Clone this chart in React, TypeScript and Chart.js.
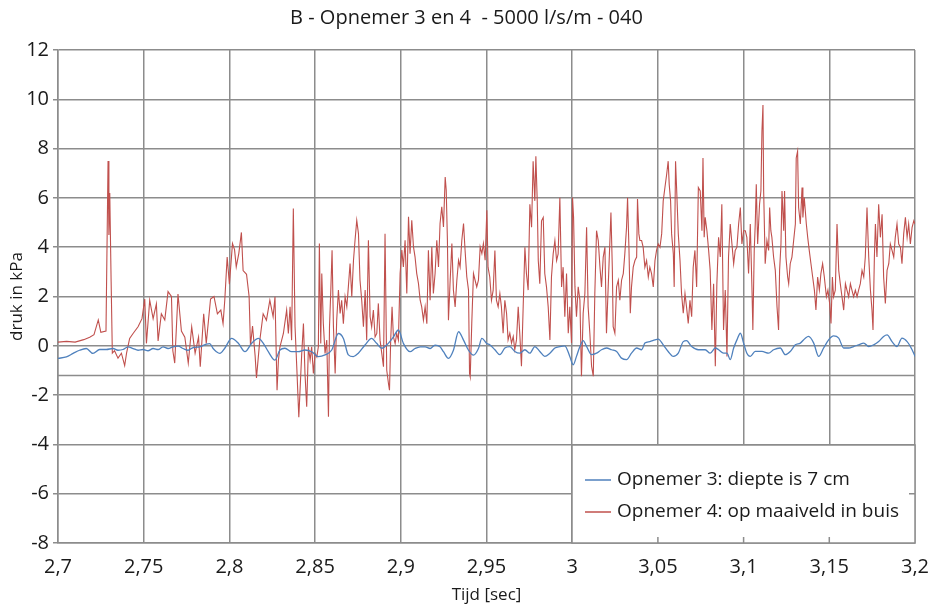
import { useEffect, useRef } from "react";
import { Chart, registerables } from "chart.js";
Chart.register(...registerables);

const chartTitle = "B - Opnemer 3 en 4  - 5000 l/s/m - 040";
const xTitle = "Tijd [sec]";
const yTitle = "druk in kPa";
const blueLabel = "Opnemer 3: diepte is 7 cm";
const redLabel = "Opnemer 4: op maaiveld in buis";
const xMin = 2.7, xMax = 3.2, xStep = 0.05;
const yMin = -8, yMax = 12, yStep = 2;
const refLevel = -1.2;

// Opnemer 3 [tijd, druk]
const blueSignal: [number, number][] = [
[2.7,-0.51],[2.7049,-0.45],[2.7088,-0.31],[2.7126,-0.18],[2.7165,-0.11],[2.7204,-0.31],[2.7243,-0.15],[2.7282,-0.15],[2.7321,-0.11],[2.735,-0.18],
[2.7379,-0.15],[2.7409,-0.04],[2.7438,-0.11],[2.7467,-0.18],[2.7496,-0.15],[2.7525,-0.2],[2.7555,-0.11],[2.7584,-0.15],[2.7613,-0.04],[2.7642,-0.11],
[2.7671,-0.04],[2.7701,-0.01],[2.773,-0.11],[2.7759,-0.18],[2.7788,-0.07],[2.7827,-0.04],[2.7866,0.07],[2.7885,0.09],[2.7905,-0.11],[2.7924,-0.24],
[2.7944,-0.31],[2.7973,-0.1],[2.8013,0.3],[2.8052,0.1],[2.8091,-0.24],[2.813,0.1],[2.8169,0.3],[2.8198,0.1],[2.8227,-0.24],[2.8266,-0.58],
[2.8295,-0.17],[2.8324,-0.1],[2.8363,-0.24],[2.8402,-0.24],[2.8441,-0.17],[2.848,-0.24],[2.8519,-0.44],[2.8558,-0.37],[2.8597,-0.17],[2.8636,0.5],
[2.8665,0.3],[2.8694,-0.37],[2.8723,-0.44],[2.8752,-0.3],[2.8791,0.03],[2.883,0.3],[2.8859,0.1],[2.8889,-0.1],[2.8927,0.1],[2.8956,0.35],
[2.8986,0.64],[2.9015,0.1],[2.9054,-0.24],[2.9083,-0.11],[2.9113,-0.04],[2.9142,-0.04],[2.9171,-0.11],[2.92,0.03],[2.9229,-0.04],[2.9249,-0.24],
[2.9278,-0.51],[2.9307,-0.18],[2.9337,0.57],[2.9366,0.23],[2.9395,-0.18],[2.9424,-0.38],[2.9453,-0.11],[2.9473,0.3],[2.9502,0.09],[2.9519,0.04],
[2.9549,-0.16],[2.9578,-0.36],[2.9607,-0.09],[2.9636,-0.03],[2.9665,-0.23],[2.9694,-0.3],[2.9724,-0.16],[2.9753,-0.3],[2.9782,-0.03],[2.9811,-0.23],
[2.984,-0.43],[2.987,-0.3],[2.9899,-0.09],[2.9928,-0.03],[2.9957,0],[2.9986,-0.43],[3.0006,-0.77],[3.0025,-0.43],[3.0045,-0.03],[3.0064,0.21],
[3.0084,-0.03],[3.0113,-0.36],[3.0142,-0.3],[3.0171,-0.16],[3.02,-0.09],[3.023,-0.16],[3.0259,-0.23],[3.0288,-0.5],[3.0317,-0.56],[3.0346,-0.3],
[3.0376,-0.09],[3.0405,-0.16],[3.0424,0.11],[3.0453,0.17],[3.0483,0.24],[3.0502,0.27],[3.0531,0.04],[3.056,-0.23],[3.059,-0.43],[3.0619,-0.3],
[3.0648,0.17],[3.0667,0.21],[3.0697,-0.03],[3.0736,-0.16],[3.0776,-0.16],[3.0805,-0.3],[3.0835,-0.09],[3.0854,-0.16],[3.0883,-0.3],[3.0903,-0.3],
[3.0922,-0.56],[3.0942,-0.09],[3.0961,0.24],[3.0981,0.51],[3.1,0.11],[3.1019,-0.3],[3.1039,-0.43],[3.1068,-0.23],[3.1107,-0.23],[3.1146,-0.3],
[3.1175,-0.16],[3.1214,-0.09],[3.1243,-0.36],[3.1272,-0.23],[3.1302,0.04],[3.1331,0.11],[3.136,0.31],[3.1379,0.38],[3.1409,0.11],[3.1438,-0.43],
[3.1467,-0.09],[3.1496,0.24],[3.1525,0.4],[3.1555,0.31],[3.1584,-0.09],[3.1613,-0.09],[3.1642,-0.03],[3.1671,0.04],[3.1701,0.11],[3.173,-0.03],
[3.1759,0.04],[3.1788,0.17],[3.1817,0.38],[3.1837,0.44],[3.1866,0.17],[3.1895,-0.03],[3.1924,0.31],[3.1954,0.17],[3.1983,-0.16],[3.2,-0.43],
];

// Opnemer 4 [tijd, druk], 2.70 - 2.825
const redPart1: [number, number][] = [
[2.7,0.15],[2.705,0.18],[2.71,0.15],[2.715,0.25],[2.7185,0.35],[2.721,0.45],[2.7235,1.05],[2.725,0.55],[2.728,0.6],[2.7292,7.5],
[2.7297,4.5],[2.7302,6.2],[2.731,2.6],[2.7317,-0.3],[2.733,-0.2],[2.735,-0.5],[2.737,-0.3],[2.7389,-0.8],[2.74,-0.3],[2.7418,0.3],
[2.7438,0.5],[2.7467,0.77],[2.749,1.1],[2.7506,1.9],[2.7516,0.1],[2.7535,1.85],[2.7555,1.1],[2.7574,1.7],[2.7584,0.2],[2.7603,1.3],
[2.7623,1.05],[2.7642,2.2],[2.7662,2.0],[2.767,-0.2],[2.7681,-0.7],[2.77,2.1],[2.772,0.6],[2.774,0.35],[2.776,-0.7],[2.778,0.77],
[2.78,-0.3],[2.782,0.35],[2.783,-0.85],[2.785,1.3],[2.7865,0.1],[2.789,1.9],[2.791,2.0],[2.793,1.3],[2.795,1.45],[2.7963,0.9],
[2.7973,1.85],[2.7987,3.6],[2.8,2.5],[2.8018,4.15],[2.803,3.9],[2.804,3.2],[2.8055,3.75],[2.807,4.6],[2.808,3.05],[2.81,2.9],
[2.8115,2.0],[2.8123,0.0],[2.8135,0.8],[2.815,-0.4],[2.8158,-1.3],[2.8177,0.2],[2.8197,1.3],[2.8216,1.04],[2.8236,1.85],[2.8255,1.18],
];

// 2.825 - 2.95
const redPart2: [number, number][] = [
[2.8266,1.99],[2.8278,-1.8],[2.8286,-0.58],[2.8295,-0.04],[2.8315,0.5],[2.8334,1.45],[2.8344,0.5],[2.8354,1.58],[2.8363,0.23],[2.8373,5.57],
[2.8383,0.77],[2.8393,-0.85],[2.8405,-2.9],[2.8422,-0.31],[2.8432,0.9],[2.8441,-1.12],[2.8451,-2.47],[2.8461,-0.04],[2.8471,-0.58],[2.848,-0.04],
[2.849,-1.12],[2.85,-0.31],[2.851,-0.45],[2.8519,-0.04],[2.8525,4.15],[2.8533,0.09],[2.8539,2.93],[2.8548,0.9],[2.8558,-0.31],[2.8568,0.23],
[2.8578,-2.88],[2.8584,0.77],[2.8591,2.12],[2.8599,3.88],[2.8607,0.77],[2.8617,-1.12],[2.8626,1.04],[2.8636,2.26],[2.8646,1.31],[2.8655,1.85],
[2.8665,0.9],[2.8675,1.99],[2.8685,1.58],[2.8694,2.39],[2.8704,3.34],[2.8714,1.99],[2.8724,3.47],[2.8733,4.28],[2.8743,5.09],[2.8753,4.55],
[2.8762,2.66],[2.8772,1.85],[2.8782,0.77],[2.8792,2.26],[2.8801,0.23],[2.8811,4.28],[2.8821,1.18],[2.883,0.77],[2.884,1.45],[2.885,0.36],
[2.886,0.5],[2.8869,1.72],[2.8879,0.23],[2.8889,-0.31],[2.8899,-0.85],[2.8908,4.55],[2.8918,-0.99],[2.8928,-1.53],[2.8934,-1.8],[2.8941,0.23],
[2.8949,1.58],[2.8957,0.36],[2.8967,0.09],[2.8976,0.5],[2.8986,0.23],[2.8996,2.93],[2.9006,3.88],[2.9015,3.2],[2.9025,4.28],[2.9035,2.12],
[2.9045,5.23],[2.9054,3.74],[2.9064,5.09],[2.9074,4.01],[2.9083,3.61],[2.9093,2.93],[2.9103,2.53],[2.9113,1.85],[2.9122,1.58],[2.9132,1.04],
[2.9142,1.58],[2.9152,0.9],[2.9161,3.88],[2.9171,1.85],[2.9181,4.01],[2.919,2.12],[2.92,2.93],[2.921,4.28],[2.922,3.2],[2.9229,4.96],
[2.9239,5.64],[2.9249,4.82],[2.9259,6.85],[2.9265,6.31],[2.9272,4.28],[2.9278,1.04],[2.9288,2.66],[2.9298,4.15],[2.9307,2.26],[2.9317,1.58],
[2.9327,2.66],[2.9337,3.47],[2.9346,3.2],[2.9356,4.28],[2.9366,4.96],[2.9375,3.88],[2.9385,2.8],[2.9395,2.26],[2.9401,-1.12],[2.9405,-1.26],
[2.9414,0.9],[2.9424,2.93],[2.9443,2.39],[2.9453,2.66],[2.9463,4.01],[2.9473,3.74],[2.9482,4.15],[2.9492,3.47],[2.9502,5.5],
];

// 2.95 - 3.075
const redPart3: [number, number][] = [
[2.9509,3.19],[2.9519,2.79],[2.9529,1.85],[2.9539,2.26],[2.9549,3.87],[2.9558,1.85],[2.9568,1.58],[2.9578,2.12],[2.9587,1.58],[2.9597,0.51],
[2.9607,1.85],[2.9617,1.32],[2.9626,0.24],[2.9636,0.51],[2.9646,0.11],[2.9656,0.38],[2.9665,-0.16],[2.9675,0.24],[2.9685,1.58],[2.9694,0.51],
[2.9704,-0.83],[2.9714,1.58],[2.9724,4.0],[2.9733,2.93],[2.9743,2.26],[2.9753,5.74],[2.9763,4.81],[2.9772,7.49],[2.9782,5.88],[2.9788,7.69],
[2.9796,5.88],[2.9802,3.46],[2.9811,2.52],[2.9821,5.07],[2.9831,5.21],[2.984,2.93],[2.985,2.39],[2.986,1.58],[2.987,0.24],[2.9879,2.79],
[2.9889,3.73],[2.9899,4.27],[2.9909,3.46],[2.9918,3.73],[2.9928,6.01],[2.9938,2.39],[2.9947,3.19],[2.9957,1.18],[2.9967,2.93],[2.9977,0.51],
[2.9986,1.58],[2.9996,0.11],[3.0002,6.01],[3.0008,5.21],[3.0016,2.39],[3.0025,1.18],[3.0035,2.39],[3.0045,1.85],[3.0054,-1.23],[3.0064,1.32],
[3.0074,2.12],[3.0084,4.81],[3.0093,1.58],[3.0103,0.51],[3.0113,-0.83],[3.0123,-1.23],[3.0132,2.12],[3.0142,4.67],[3.0152,4.27],[3.0162,3.19],
[3.0171,2.39],[3.0181,3.6],[3.0191,4.0],[3.02,0.51],[3.021,2.39],[3.022,4.27],[3.0226,5.41],[3.0234,3.19],[3.0239,0.78],[3.0249,0.51],
[3.0259,2.39],[3.0269,2.66],[3.0278,1.85],[3.0288,2.66],[3.0298,2.93],[3.0307,3.73],[3.0317,4.81],[3.0323,6.01],[3.0331,4.0],[3.0339,1.32],
[3.0346,2.39],[3.0356,3.19],[3.0366,3.46],[3.0376,3.6],[3.0381,5.95],[3.0389,4.54],[3.0395,4.27],[3.0405,4.27],[3.0414,4.0],[3.0424,3.19],
[3.0434,3.46],[3.0444,2.79],[3.0453,3.19],[3.0463,2.93],[3.0473,2.39],[3.0483,3.46],[3.0492,3.87],[3.0502,4.13],[3.0512,4.0],[3.0522,4.54],
[3.0531,5.88],[3.0541,6.42],[3.0551,6.95],[3.056,7.49],[3.0566,6.55],[3.0574,5.88],[3.058,4.54],[3.059,3.73],[3.0595,2.39],[3.0603,7.49],
[3.0609,6.42],[3.0619,4.54],[3.0629,3.46],[3.0638,2.12],[3.0648,1.32],[3.0658,2.12],[3.0667,1.58],[3.0677,0.91],[3.0687,1.85],[3.0697,1.18],
[3.0706,3.19],[3.0716,3.87],[3.0726,2.39],[3.0736,6.42],
];

// 3.075 - 3.20
const redPart4: [number, number][] = [
[3.0747,6.28],[3.0757,4.67],[3.0763,7.62],[3.077,4.4],[3.0776,5.21],[3.0786,4.67],[3.0796,3.87],[3.0805,3.06],[3.0815,0.64],[3.0825,2.52],
[3.0835,-0.83],[3.0844,2.52],[3.0854,4.4],[3.0864,3.6],[3.0873,5.74],[3.0883,0.64],[3.0893,2.26],[3.0903,-0.43],[3.0912,3.6],[3.0922,4.94],
[3.0932,4.13],[3.0942,3.33],[3.0951,3.87],[3.0961,4.0],[3.0971,4.94],[3.0981,5.61],[3.099,4.13],[3.1,4.67],[3.101,4.67],[3.1019,4.4],
[3.1029,2.93],[3.1039,4.94],[3.1049,2.26],[3.1054,0.64],[3.1062,3.87],[3.1068,4.94],[3.1074,6.55],[3.1082,4.13],[3.1093,5.74],[3.1101,6.28],
[3.1107,8.7],[3.1113,9.77],[3.1117,6.28],[3.1126,3.33],[3.1136,4.27],[3.1146,3.87],[3.1152,5.61],[3.1159,4.67],[3.1165,4.4],[3.1175,3.6],
[3.1185,3.06],[3.1195,1.58],[3.1204,0.64],[3.121,3.06],[3.1218,4.13],[3.1224,6.28],[3.1234,4.67],[3.1239,6.28],[3.1247,3.6],[3.1257,2.79],
[3.1263,2.52],[3.1272,3.33],[3.1282,3.6],[3.1292,4.27],[3.1302,4.94],[3.1307,7.62],[3.1315,7.89],[3.1321,5.61],[3.1331,4.94],[3.1341,6.42],
[3.1346,5.21],[3.1354,6.01],[3.1366,4.94],[3.1374,4.4],[3.1383,3.87],[3.1393,3.33],[3.1403,2.79],[3.1413,2.26],[3.1422,1.45],[3.1432,2.79],
[3.1442,2.26],[3.1451,2.93],[3.1461,3.33],[3.1471,2.79],[3.1483,1.99],[3.1492,2.26],[3.1502,1.72],[3.151,0.91],[3.1518,2.79],[3.1525,1.99],
[3.1535,2.26],[3.1545,4.94],[3.1555,3.06],[3.1564,2.52],[3.1574,1.99],[3.1584,1.45],[3.1594,2.52],[3.1603,2.26],[3.1613,1.99],[3.1623,2.52],
[3.1632,2.26],[3.1642,1.99],[3.1652,2.26],[3.1662,1.99],[3.1671,2.26],[3.1681,2.52],[3.1691,3.06],[3.1701,2.79],[3.171,3.6],[3.172,5.61],
[3.173,3.6],[3.174,2.26],[3.1749,1.45],[3.1755,0.64],[3.1763,3.6],[3.1769,4.94],[3.1778,3.6],[3.1788,5.74],[3.1798,4.4],[3.1808,5.34],
[3.1817,2.79],[3.1827,1.72],[3.1837,3.06],[3.1847,3.33],[3.1856,4.13],[3.1866,3.87],[3.1876,3.6],[3.1885,4.4],[3.1895,4.94],[3.1905,4.13],
[3.1915,4.0],[3.1924,3.33],[3.1934,4.54],[3.1944,5.21],[3.1954,4.4],[3.1963,4.94],[3.1973,4.13],[3.1983,4.81],[3.1993,5.07],[3.2,4.94],
];

const BLUE = "#4f81bd";
const RED = "#c0504d";
const GRID = "#8c8c8c";
const TEXT = "#1a1a1a";
const FONT = "'Open Sans', 'DejaVu Sans', sans-serif";

const fmtX = (v: number) => String(Number(v.toFixed(2))).replace(".", ",");

const overlay = {
  id: "overlay",
  beforeDatasetsDraw(chart: any) {
    const { ctx, chartArea, scales } = chart;
    const y = scales.y.getPixelForValue(refLevel);
    ctx.save();
    ctx.strokeStyle = GRID;
    ctx.lineWidth = 1.5;
    ctx.beginPath();
    ctx.moveTo(chartArea.left, y);
    ctx.lineTo(chartArea.right, y);
    ctx.stroke();
    ctx.restore();
  },
  afterDatasetsDraw(chart: any) {
    const { ctx, chartArea, scales } = chart;
    const right = chartArea.right;
    const bottom = chartArea.bottom;
    const left = right - 343;
    const top = bottom - 98;
    ctx.save();
    ctx.fillStyle = "#ffffff";
    ctx.fillRect(left, top, right - left, bottom - top);
    ctx.strokeStyle = GRID;
    ctx.lineWidth = 1.5;
    ctx.strokeRect(left, top, right - left, bottom - top);
    // inner tick marks hidden by the legend box
    ctx.beginPath();
    scales.x.ticks.forEach((t: any) => {
      const px = scales.x.getPixelForValue(t.value);
      if (px > left + 2 && px < right - 2) {
        ctx.moveTo(px, bottom);
        ctx.lineTo(px, bottom - 6);
      }
    });
    scales.y.ticks.forEach((t: any) => {
      const py = scales.y.getPixelForValue(t.value);
      if (py > top + 2 && py < bottom - 2) {
        ctx.moveTo(right, py);
        ctx.lineTo(right - 6, py);
      }
    });
    ctx.stroke();
    const entries = [
      { label: chart.data.datasets[0].label, color: BLUE, y: top + 35 },
      { label: chart.data.datasets[1].label, color: RED, y: top + 67 },
    ];
    ctx.font = `19px ${FONT}`;
    ctx.textBaseline = "middle";
    ctx.textAlign = "left";
    entries.forEach((e) => {
      ctx.strokeStyle = e.color;
      ctx.lineWidth = 1.5;
      ctx.beginPath();
      ctx.moveTo(left + 13, e.y);
      ctx.lineTo(left + 39, e.y);
      ctx.stroke();
      ctx.fillStyle = TEXT;
      ctx.fillText(e.label, left + 45, e.y);
    });
    ctx.restore();
  },
  afterDraw(chart: any) {
    const { ctx, width } = chart;
    ctx.save();
    ctx.font = `20px ${FONT}`;
    ctx.fillStyle = TEXT;
    ctx.textAlign = "center";
    ctx.textBaseline = "middle";
    ctx.fillText(chartTitle, width / 2, 18);
    ctx.restore();
  },
};

export default function App() {
  const ref = useRef<HTMLCanvasElement | null>(null);
  useEffect(() => {
    if (!ref.current) return;
    const toPts = (arr: [number, number][]) => arr.map(([x, y]) => ({ x, y }));
    const chart = new Chart(ref.current, {
      type: "line",
      data: {
        datasets: [
          {
            label: blueLabel,
            data: toPts(blueSignal),
            borderColor: BLUE,
            borderWidth: 1.3,
            pointRadius: 0,
            cubicInterpolationMode: "monotone",
            fill: false,
          },
          {
            label: redLabel,
            data: toPts([...redPart1, ...redPart2, ...redPart3, ...redPart4]),
            borderColor: RED,
            borderWidth: 1.1,
            pointRadius: 0,
            tension: 0,
            fill: false,
          },
        ],
      },
      options: {
        animation: false,
        responsive: false,
        maintainAspectRatio: false,
        layout: { padding: { left: 0, right: 18, top: 50, bottom: 0 } },
        plugins: {
          legend: { display: false },
          tooltip: { enabled: false },
          title: { display: false },
        },
        scales: {
          x: {
            type: "linear",
            min: xMin,
            max: xMax,
            ticks: {
              stepSize: xStep,
              callback: (v: any) => fmtX(Number(v)),
              color: TEXT,
              font: { family: FONT, size: 20 },
              padding: 12,
              maxRotation: 0,
              autoSkip: false,
            },
            grid: { color: GRID, lineWidth: 1.5, drawTicks: false },
            border: { color: GRID, width: 1.5 },
            title: {
              display: true,
              text: xTitle,
              color: TEXT,
              font: { family: FONT, size: 17 },
              padding: { top: 0, bottom: 2 },
            },
            afterFit: (s: any) => {
              s.height = 64;
              s.paddingLeft = 0;
              s.paddingRight = 0;
            },
          },
          y: {
            min: yMin,
            max: yMax,
            ticks: {
              stepSize: yStep,
              color: TEXT,
              font: { family: FONT, size: 20 },
              padding: 4,
            },
            grid: { color: GRID, lineWidth: 1.5, tickLength: 5 },
            border: { color: GRID, width: 1.5 },
            title: {
              display: true,
              text: yTitle,
              color: TEXT,
              font: { family: FONT, size: 17 },
              padding: { top: 7, bottom: 0 },
            },
            afterFit: (s: any) => {
              s.width = 58;
              s.paddingTop = 0;
              s.paddingBottom = 0;
            },
          },
        },
      },
      plugins: [overlay],
    } as any);
    return () => chart.destroy();
  }, []);
  return (
    <div style={{ position: "fixed", left: 0, top: 0, width: 933, height: 607, background: "#fff" }}>
      <canvas ref={ref} width={933} height={607} style={{ width: 933, height: 607 }} />
    </div>
  );
}
